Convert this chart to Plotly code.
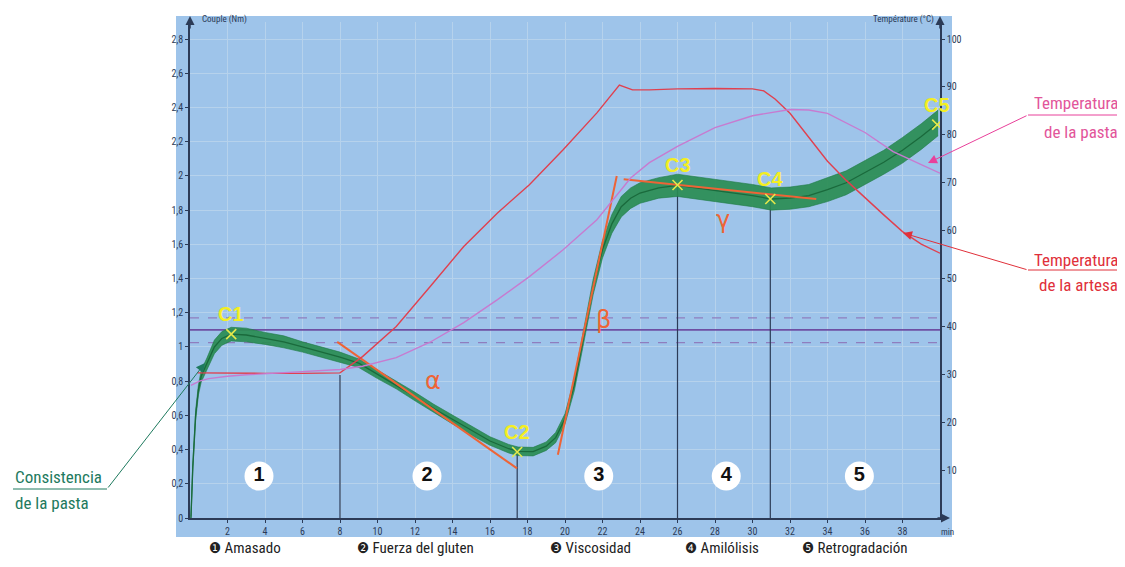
import plotly.graph_objects as go

# ---------------- data ----------------
# torque curve (Nm) vs time (min): centre of the noisy trace and half-width of the noise band
green_x = [0.05, 0.15, 0.3, 0.45, 0.6, 0.9, 1.3, 1.7, 2.2, 3.0, 4.0, 5.0, 6.0, 7.0, 8.0, 9.0,
           10.0, 11.0, 12.0, 13.0, 14.0, 15.0, 16.0, 17.0, 17.5, 18.3, 19.0, 19.5, 20.0, 20.5,
           21.0, 21.5, 22.0, 22.5, 23.0, 23.5, 24.0, 25.0, 26.0, 27.0, 28.0, 29.0, 30.0, 31.0,
           32.0, 33.0, 34.0, 35.0, 36.0, 37.0, 38.0, 39.0, 39.9]
green_y = [0.0, 0.3, 0.6, 0.75, 0.83, 0.9, 1.0, 1.05, 1.075, 1.07, 1.05, 1.03, 1.0, 0.97, 0.94, 0.905,
           0.84, 0.78, 0.71, 0.64, 0.575, 0.51, 0.45, 0.405, 0.39, 0.388, 0.42, 0.47, 0.58, 0.78,
           1.07, 1.35, 1.57, 1.72, 1.82, 1.87, 1.9, 1.93, 1.945, 1.93, 1.915, 1.9, 1.885, 1.865,
           1.87, 1.885, 1.92, 1.96, 2.02, 2.08, 2.15, 2.23, 2.31]
green_half = [0.01, 0.02, 0.03, 0.03, 0.035, 0.035, 0.04, 0.04, 0.04, 0.04, 0.035, 0.035, 0.03, 0.03, 0.03, 0.025,
              0.025, 0.025, 0.025, 0.025, 0.025, 0.025, 0.025, 0.025, 0.025, 0.025, 0.025, 0.03, 0.03, 0.035,
              0.04, 0.045, 0.05, 0.055, 0.06, 0.06, 0.06, 0.06, 0.065, 0.065, 0.065, 0.065, 0.065, 0.065,
              0.065, 0.065, 0.07, 0.07, 0.07, 0.07, 0.075, 0.075, 0.075]

# bowl temperature (°C)
red_x = [0.4, 2, 4, 6, 8.0, 9.2, 11.0, 12.8, 14.6, 16.4, 18.1, 19.9, 21.7, 22.9, 23.6, 24.5, 26, 28, 30,
         30.6, 31.2, 32.0, 33.0, 34.0, 35.0, 36.0, 37.0, 38.0, 39.0, 40.0]
red_t = [30.3, 30.2, 30.2, 30.2, 30.3, 33.7, 40.0, 48.3, 56.7, 63.7, 69.6, 76.9, 84.6, 90.4, 89.4, 89.4, 89.6,
         89.7, 89.6, 89.2, 87.5, 84.5, 79.5, 74.5, 70.5, 66.8, 63.3, 59.8, 57.2, 55.3]

# dough temperature (°C)
mag_x = [0.05, 0.5, 1, 2, 3, 4, 6, 8, 9.2, 11.0, 12.8, 14.6, 16.4, 18.1, 19.9, 21.7, 23.5, 24.5, 26, 28,
         30, 32, 33, 34, 36, 37.5, 39, 40]
mag_t = [27.7, 28.6, 29.1, 29.6, 29.9, 30.1, 30.5, 31.0, 31.7, 33.5, 36.7, 40.8, 45.6, 50.4, 56.0, 62.3,
         71.0, 74.2, 77.6, 81.5, 84.0, 85.3, 85.2, 84.5, 80.5, 76.5, 73.8, 72.0]

# target band for C1
target_mid = 1.10
target_lo = 1.025
target_hi = 1.17

# tangent slopes alpha, beta, gamma
alpha_x, alpha_y = [7.85, 17.44], [1.03, 0.29]
beta_x, beta_y = [19.62, 22.76], [0.37, 2.0]
gamma_x, gamma_y = [23.13, 33.4], [1.98, 1.865]

# characteristic points
c_names = ["C1", "C2", "C3", "C4", "C5"]
c_x = [2.2, 17.45, 26.0, 30.95, 39.85]
c_y = [1.075, 0.386, 1.947, 1.865, 2.30]

# phase boundaries (vertical lines): x and height
vline_x = [8.0, 17.45, 26.0, 30.95]
vline_top = [0.836, 0.386, 1.947, 1.865]

# phase numbers
phase_labels = ["1", "2", "3", "4", "5"]
phase_x = [3.68, 12.64, 21.8, 28.6, 35.7]
phase_y = 0.245

# axis ticks
x_ticks = list(range(2, 40, 2))
y_ticks = [0, 0.2, 0.4, 0.6, 0.8, 1.0, 1.2, 1.4, 1.6, 1.8, 2.0, 2.2, 2.4, 2.6, 2.8]
y_ticktext = ["0", "0,2", "0,4", "0,6", "0,8", "1", "1,2", "1,4", "1,6", "1,8", "2", "2,2", "2,4", "2,6", "2,8"]
t_ticks = [10, 20, 30, 40, 50, 60, 70, 80, 90, 100]

legend_items = ["\u2776 Amasado", "\u2777 Fuerza del gluten", "\u2778 Viscosidad",
                "\u2779 Amilólisis", "\u277A Retrogradación"]

# ---------------- styling ----------------
OFF = 8                      # page body margin of the html page
PAGE_W, PAGE_H = 1125, 567
W, H = PAGE_W - OFF, PAGE_H - 2 * OFF
# plot area in page pixels: x 190..940, y 22..518
X0P, X1P, Y0P, Y1P = 190, 940, 22, 518
ML = X0P - OFF
MR = W - (X1P - OFF)
MT = Y0P - OFF
MB = H - (Y1P - OFF)
PW, PH = X1P - X0P, Y1P - Y0P
YMAX = 2.90
TMAX = YMAX * 100 / 2.8

BLUE = "#9EC4EA"
GRID = "#B6D2EC"
AXIS = "#2C3B57"
RED = "#E0404F"
MAG = "#C77BD0"
ORANGE = "#EE6436"
YELLOW = "#F4EE22"
NARROW = "Liberation Sans Narrow, Arial Narrow, Roboto Condensed, DejaVu Sans Condensed, sans-serif"


def px(xp):
    """page pixel x -> paper coordinate"""
    return (xp - X0P) / PW


def py(yp):
    """page pixel y -> paper coordinate"""
    return (Y1P - yp) / PH


fig = go.Figure()

# C1 target lines
for yv, dash, col, w in [(target_hi, "dash", "#8F7DBE", 1.2), (target_mid, "solid", "#6E4FA3", 1.6),
                         (target_lo, "dash", "#8F7DBE", 1.2)]:
    fig.add_trace(go.Scatter(x=[0, 40], y=[yv, yv], mode="lines",
                             line=dict(color=col, width=w, dash=dash), hoverinfo="skip"))

# temperatures (right axis)
fig.add_trace(go.Scatter(x=red_x, y=red_t, yaxis="y2", mode="lines",
                         line=dict(color=RED, width=1.4), name="Temperatura de la artesa"))
fig.add_trace(go.Scatter(x=mag_x, y=mag_t, yaxis="y2", mode="lines",
                         line=dict(color=MAG, width=1.4), name="Temperatura de la pasta"))

# vertical phase lines
for xv, top in zip(vline_x, vline_top):
    fig.add_trace(go.Scatter(x=[xv, xv], y=[0, top], mode="lines",
                             line=dict(color=AXIS, width=1.2), hoverinfo="skip"))

# torque band
lo = [y - h for y, h in zip(green_y, green_half)]
hi = [y + h for y, h in zip(green_y, green_half)]
fig.add_trace(go.Scatter(x=green_x, y=lo, mode="lines", line=dict(width=0.6, color="#1F7A45"),
                         hoverinfo="skip"))
fig.add_trace(go.Scatter(x=green_x, y=hi, mode="lines", line=dict(width=0.6, color="#1F7A45"),
                         fill="tonexty", fillcolor="rgba(42,140,82,0.92)", hoverinfo="skip"))
fig.add_trace(go.Scatter(x=green_x, y=green_y, mode="lines", line=dict(width=1.3, color="#1A6A3C"),
                         name="Consistencia de la pasta"))

# tangents
for tx, ty in [(alpha_x, alpha_y), (beta_x, beta_y), (gamma_x, gamma_y)]:
    fig.add_trace(go.Scatter(x=tx, y=ty, mode="lines", line=dict(color=ORANGE, width=2),
                             hoverinfo="skip"))

# characteristic points
fig.add_trace(go.Scatter(x=c_x, y=c_y, mode="markers",
                         marker=dict(symbol="x-thin-open", size=10, color="#E6E84A",
                                     line=dict(color="#E6E84A", width=1.6)),
                         hoverinfo="skip"))

# phase number circles
fig.add_trace(go.Scatter(x=phase_x, y=[phase_y] * len(phase_x), mode="markers+text",
                         marker=dict(size=29, color="white", line=dict(width=0)),
                         text=["<b>%s</b>" % s for s in phase_labels], textposition="middle center",
                         textfont=dict(family="Arial, Liberation Sans, sans-serif", size=20, color="#111"),
                         hoverinfo="skip"))

ann = []
for name, xv, yv in zip(c_names, c_x, c_y):
    ann.append(dict(x=xv, y=yv, xref="x", yref="y", text="<b>%s</b>" % name, showarrow=False,
                    yshift=20, font=dict(family="Arial, Liberation Sans, sans-serif", size=20, color=YELLOW)))

for g, xv, yv in [("\u03b1", 12.96, 0.80), ("\u03b2", 22.05, 1.16), ("\u03b3", 28.4, 1.74)]:
    ann.append(dict(x=xv, y=yv, xref="x", yref="y", text=g, showarrow=False,
                    font=dict(family="DejaVu Sans, sans-serif", size=24, color=ORANGE)))

# axis titles
ann.append(dict(x=px(200), y=py(20), xref="paper", yref="paper", text="Couple (Nm)", showarrow=False,
                xanchor="left", yanchor="middle", font=dict(family=NARROW, size=9, color=AXIS)))
ann.append(dict(x=px(936), y=py(20), xref="paper", yref="paper", text="Température (°C)", showarrow=False,
                xanchor="right", yanchor="middle", font=dict(family=NARROW, size=9, color=AXIS)))
ann.append(dict(x=px(947), y=py(532), xref="paper", yref="paper", text="min", showarrow=False,
                xanchor="center", yanchor="middle", font=dict(family=NARROW, size=9, color=AXIS)))

# axis arrows
ann.append(dict(x=0, y=py(16), xref="paper", yref="paper", ax=0, ay=14, showarrow=True, text="",
                arrowhead=2, arrowsize=1.2, arrowwidth=1.5, arrowcolor=AXIS))
ann.append(dict(x=1, y=py(16), xref="paper", yref="paper", ax=0, ay=14, showarrow=True, text="",
                arrowhead=2, arrowsize=1.2, arrowwidth=1.5, arrowcolor=AXIS))
ann.append(dict(x=px(950), y=0, xref="paper", yref="paper", ax=-14, ay=0, showarrow=True, text="",
                arrowhead=2, arrowsize=1.2, arrowwidth=1.5, arrowcolor=AXIS))

# bottom legend
for txt, xp_ in zip(legend_items, [207, 355, 548, 683, 800]):
    ann.append(dict(x=px(xp_), y=py(548), xref="paper", yref="paper", text=txt, showarrow=False,
                    xanchor="left", yanchor="middle", font=dict(family=NARROW, size=15, color="#222")))

# side callouts
GREEN_T = "#1E7A5E"
PINK_T = "#E2559A"
RED_T = "#E0303A"
callouts = [
    ("Consistencia", 13, 477, "left", GREEN_T),
    ("de la pasta", 13, 503, "left", GREEN_T),
    ("Temperatura", 1120, 103, "right", PINK_T),
    ("de la pasta", 1120, 132, "right", PINK_T),
    ("Temperatura", 1120, 260, "right", RED_T),
    ("de la artesa", 1120, 285, "right", RED_T),
]
for txt, xp_, yp_, anc, col in callouts:
    ann.append(dict(x=px(xp_), y=py(yp_), xref="paper", yref="paper", text=txt, showarrow=False,
                    xanchor=anc, yanchor="middle", font=dict(family=NARROW, size=17, color=col)))

for tip, tail, col in [((205, 363), (107, 489), GREEN_T), ((928, 163), (1028, 115), "#E8409A"),
                       ((903, 233), (1028, 270), RED_T)]:
    ann.append(dict(x=px(tip[0]), y=py(tip[1]), xref="paper", yref="paper", text="", showarrow=True,
                    ax=tail[0] - tip[0], ay=tail[1] - tip[1], arrowhead=2, arrowsize=1.8,
                    arrowwidth=1, arrowcolor=col))

shapes = [
    dict(type="rect", xref="paper", yref="paper", x0=px(176), x1=px(952), y0=py(537), y1=py(16),
         fillcolor=BLUE, line=dict(width=0), layer="below"),
    dict(type="line", xref="paper", yref="paper", x0=px(13), x1=px(107), y0=py(489), y1=py(489),
         line=dict(color=GREEN_T, width=1)),
    dict(type="line", xref="paper", yref="paper", x0=px(1028), x1=px(1121), y0=py(115), y1=py(115),
         line=dict(color="#E8409A", width=1)),
    dict(type="line", xref="paper", yref="paper", x0=px(1028), x1=px(1121), y0=py(270), y1=py(270),
         line=dict(color=RED_T, width=1)),
]

tickfont = dict(family=NARROW, size=10, color=AXIS)
fig.update_layout(
    width=W, height=H,
    margin=dict(l=ML, r=MR, t=MT, b=MB, pad=0),
    paper_bgcolor="white", plot_bgcolor="rgba(0,0,0,0)",
    showlegend=False,
    xaxis=dict(range=[0, 40], tickvals=x_ticks, ticktext=[str(v) for v in x_ticks],
               showgrid=True, gridcolor=GRID, gridwidth=1, zeroline=False,
               showline=True, linecolor=AXIS, linewidth=1.5, ticks="outside", ticklen=3,
               tickcolor=AXIS, tickfont=tickfont),
    yaxis=dict(range=[0, YMAX], tickvals=y_ticks, ticktext=y_ticktext, showgrid=True, gridcolor=GRID,
               zeroline=False, showline=True, linecolor=AXIS, linewidth=1.5, ticks="outside",
               ticklen=3, tickcolor=AXIS, tickfont=tickfont),
    yaxis2=dict(range=[0, TMAX], overlaying="y", side="right", tickvals=t_ticks,
                showgrid=False, zeroline=False, showline=True, linecolor=AXIS, linewidth=1.5,
                ticks="outside", ticklen=3, tickcolor=AXIS, tickfont=tickfont),
    annotations=ann,
    shapes=shapes,
)

fig.write_html("out.html")
